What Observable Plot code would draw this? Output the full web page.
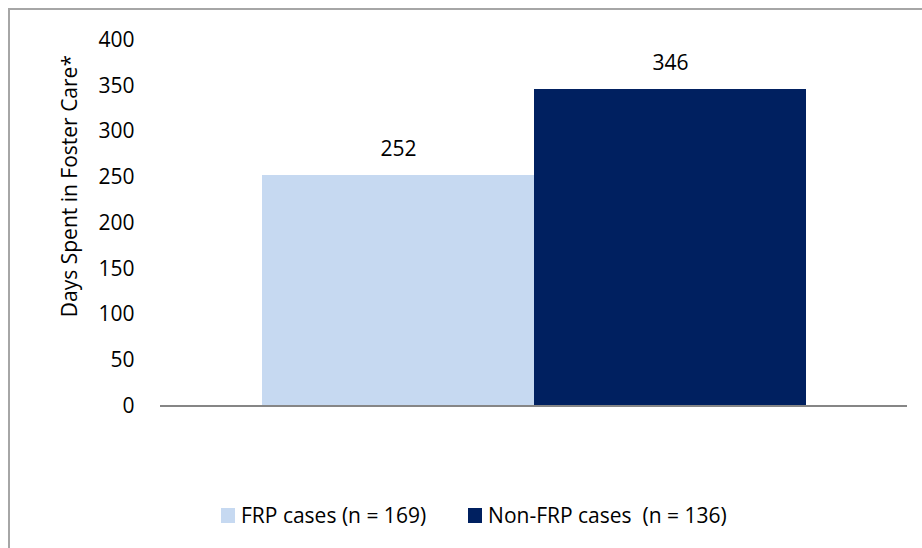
<!DOCTYPE html>
<html>
<head>
<meta charset="utf-8">
<script src="https://cdn.jsdelivr.net/npm/d3@7"></script>
<script src="https://cdn.jsdelivr.net/npm/@observablehq/plot@0.6"></script>
<style>
  body { margin: 0; background: #fff; }
  #frame { position: relative; width: 922px; height: 548px; overflow: hidden; font-family: "Open Sans", sans-serif; background: #fff; }
  #border { position: absolute; left: 8px; top: 8px; width: 2000px; height: 2000px; border-left: 2px solid #a6a6a6; border-top: 2px solid #a6a6a6; box-sizing: border-box; pointer-events: none; }
  #chart { position: absolute; left: 0; top: 0; }
  #legend { position: absolute; left: 221px; top: 501px; display: flex; align-items: center; font-size: 21px; line-height: 28px; color: #000; white-space: pre; }
  .item { display: flex; align-items: center; }
  .sw { width: 14px; height: 15px; margin-right: 6px; }
</style>
</head>
<body>
<div id="frame">
  <div id="chart"></div>
  <div id="legend"></div>
  <div id="border"></div>
</div>
<script>
const series = ["FRP cases (n = 169)", "Non-FRP cases  (n = 136)"];
const days = [252, 346];
const colors = ["#C6D9F1", "#002060"];
const yTicks = [0, 50, 100, 150, 200, 250, 300, 350, 400];
const yTitle = "Days Spent in Foster Care*";

const data = series.map((s, i) => ({series: s, days: days[i]}));

const chart = Plot.plot({
  width: 922,
  height: 440,
  marginLeft: 160,
  marginRight: 15,
  marginTop: 39.6,
  marginBottom: 34.4,
  style: {fontFamily: "Open Sans, sans-serif", fontSize: "21px", color: "#000", background: "transparent", overflow: "visible"},
  x: {domain: series, paddingInner: 0, paddingOuter: 0.373, axis: null},
  y: {domain: [0, 400], axis: null},
  color: {domain: series, range: colors},
  marks: [
    Plot.axisY(yTicks, {tickSize: 0, tickPadding: 26, label: null, fontSize: 21, fill: "#000"}),
    Plot.barY(data, {x: "series", y: "days", fill: "series"}),
    Plot.ruleY([0], {stroke: "#868686", strokeWidth: 2}),
    Plot.text(data, {x: "series", y: "days", text: d => String(d.days), lineAnchor: "bottom", dy: -20, fontSize: 21, fill: "#000"}),
    Plot.text([yTitle], {frameAnchor: "left", textAnchor: "middle", rotate: -90, dx: -90, dy: -37, fontSize: 21, fill: "#000"})
  ]
});
document.getElementById("chart").appendChild(chart);

const legend = d3.select("#legend");
series.forEach((s, i) => {
  const it = legend.append("div").attr("class", "item").style("margin-right", i === 0 ? "42px" : "0");
  it.append("div").attr("class", "sw").style("background", colors[i]);
  it.append("span").text(s);
});
</script>
</body>
</html>
